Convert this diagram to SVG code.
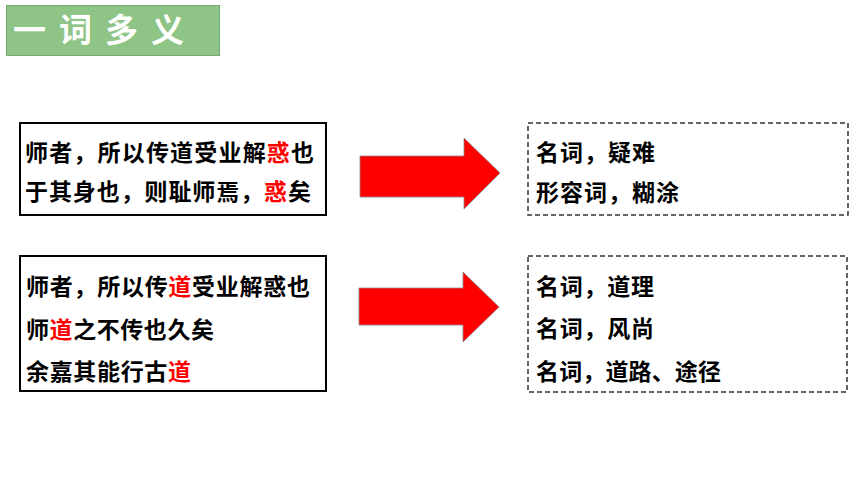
<svg xmlns="http://www.w3.org/2000/svg" width="860" height="484" viewBox="0 0 860 484">
<style>
.t{font-family:"Noto Sans CJK SC","Noto Sans",sans-serif;font-weight:bold;font-size:23px;fill:#000}
.r{fill:#ff0000}
.box{fill:#fff;stroke:#000;stroke-width:2}
.dbox{fill:#fff;stroke:#333;stroke-width:1.5;stroke-dasharray:5,3}
.arrow{fill:#ff0000;stroke:#888;stroke-width:0.8}
</style>
<rect width="860" height="484" fill="#fff"/>
<g id="title">
<rect x="6.5" y="5.5" width="213" height="50" fill="#8ec485" stroke="#78a872" stroke-width="1"/>
<text x="13" y="42" font-family="Noto Sans CJK SC,sans-serif" font-weight="bold" font-size="33" fill="#fff" letter-spacing="13">一词多义</text>
</g>
<g id="src1">
<rect class="box" x="20" y="123" width="306" height="92"/>
<text class="t" x="25" y="161" textLength="289" lengthAdjust="spacing">师者，所以传道受业解<tspan class="r">惑</tspan>也</text>
<text class="t" x="25" y="200" textLength="286" lengthAdjust="spacing">于其身也，则耻师焉，<tspan class="r">惑</tspan>矣</text>
</g>
<g id="src2">
<rect class="box" x="20" y="256" width="306" height="135"/>
<text class="t" x="26" y="295" textLength="284" lengthAdjust="spacing">师者，所以传<tspan class="r">道</tspan>受业解惑也</text>
<text class="t" x="26" y="338" textLength="188" lengthAdjust="spacing">师<tspan class="r">道</tspan>之不传也久矣</text>
<text class="t" x="26" y="380" textLength="165" lengthAdjust="spacing">余嘉其能行古<tspan class="r">道</tspan></text>
</g>
<g id="connectors">
<polygon class="arrow" points="360,156 464,156 464,138 500,173 464,209 464,197 360,197"/>
<polygon class="arrow" points="359,288 463,288 463,272 499,307 463,342 463,325 359,325"/>
</g>
<g id="dst1">
<rect class="dbox" x="528" y="123" width="320" height="92"/>
<text class="t" x="536" y="161" textLength="119" lengthAdjust="spacing">名词，疑难</text>
<text class="t" x="536" y="201" textLength="143" lengthAdjust="spacing">形容词，糊涂</text>
</g>
<g id="dst2">
<rect class="dbox" x="528" y="256" width="319" height="136"/>
<text class="t" x="536" y="295" textLength="118" lengthAdjust="spacing">名词，道理</text>
<text class="t" x="536" y="337" textLength="118" lengthAdjust="spacing">名词，风尚</text>
<text class="t" x="536" y="380" textLength="185" lengthAdjust="spacing">名词，道路、途径</text>
</g>
</svg>
